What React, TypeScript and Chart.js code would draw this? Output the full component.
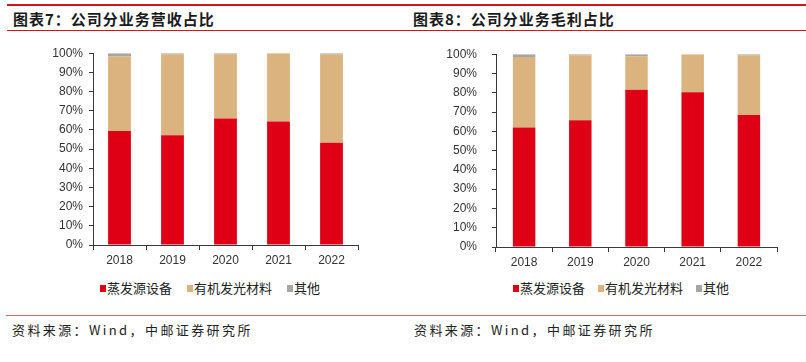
import React, { useEffect, useRef } from "react";
import { Chart, registerables } from "chart.js";

Chart.register(...registerables);

const categories = ["2018", "2019", "2020", "2021", "2022"];
const seriesNames = ["蒸发源设备", "有机发光材料", "其他"];

const revEvap = [59.5, 57.2, 66.0, 64.4, 53.3];
const revOled = [38.8, 42.3, 33.5, 35.6, 46.2];
const revOther = [1.7, 0.5, 0.5, 0.0, 0.5];

const gpEvap = [62.0, 65.8, 81.5, 80.3, 68.5];
const gpOled = [36.5, 33.6, 17.4, 19.7, 30.9];
const gpOther = [1.5, 0.6, 1.1, 0.0, 0.6];

const yTicks = [0, 10, 20, 30, 40, 50, 60, 70, 80, 90, 100];

const COLORS = ["#E00016", "#DBB37E", "#A6A6A6"];
const AXIS = "#3a3a3a";
const TICK_FONT = { family: "'Liberation Sans', Arial, sans-serif", size: 12 };
const CJK = "'Noto Sans CJK SC', 'Noto Sans', sans-serif";

type Cfg = {
  series: number[][];
  padLeft: number;
  padRight: number;
  padTop: number;
  yWidth: number;
  yPad: number;
  xHeight: number;
  barPct: number;
};

function StackChart({ cfg, width, height }: { cfg: Cfg; width: number; height: number }) {
  const ref = useRef<HTMLCanvasElement | null>(null);
  useEffect(() => {
    if (!ref.current) return;
    const chart = new Chart(ref.current, {
      type: "bar",
      data: {
        labels: categories,
        datasets: cfg.series.map((d, i) => ({
          label: seriesNames[i],
          data: d,
          backgroundColor: COLORS[i],
          borderWidth: 0,
          barPercentage: cfg.barPct,
          categoryPercentage: 1,
        })),
      },
      options: {
        responsive: false,
        animation: false,
        layout: { padding: { left: cfg.padLeft, right: cfg.padRight, top: cfg.padTop, bottom: 0 } },
        plugins: {
          tooltip: { enabled: false },
          legend: { display: false },
        },
        scales: {
          x: {
            stacked: true,
            afterFit: (s: any) => {
              s.height = cfg.xHeight;
            },
            grid: {
              offset: true,
              drawOnChartArea: false,
              drawTicks: true,
              tickLength: 5,
              color: AXIS,
            },
            border: { display: true, color: AXIS },
            ticks: { color: "#333", font: TICK_FONT, padding: 3 },
          },
          y: {
            stacked: true,
            min: 0,
            max: 100,
            afterFit: (s: any) => {
              s.width = cfg.yWidth;
            },
            afterBuildTicks: (s: any) => {
              s.ticks = yTicks.map((v) => ({ value: v }));
            },
            grid: {
              drawOnChartArea: false,
              drawTicks: true,
              tickLength: 4,
              color: AXIS,
            },
            border: { display: true, color: AXIS },
            ticks: {
              color: "#333",
              font: TICK_FONT,
              padding: cfg.yPad,
              callback: (v: any) => v + "%",
            },
          },
        },
      },
    });
    return () => chart.destroy();
  }, []);
  return <canvas ref={ref} width={width} height={height} style={{ width, height, display: "block" }} />;
}

function Legend({ left, gap }: { left: number; gap: number }) {
  return (
    <div
      style={{
        position: "absolute",
        left,
        top: 279,
        height: 18,
        display: "flex",
        alignItems: "center",
        gap,
        fontFamily: CJK,
        fontSize: 13,
        lineHeight: "18px",
        color: "#222",
        whiteSpace: "nowrap",
      }}
    >
      {seriesNames.map((n, i) => (
        <div key={n} style={{ display: "flex", alignItems: "center" }}>
          <span style={{ display: "inline-block", width: 6, height: 7, background: COLORS[i], marginRight: 1 }} />
          <span>{n}</span>
        </div>
      ))}
    </div>
  );
}

const leftCfg: Cfg = {
  series: [revEvap, revOled, revOther],
  padLeft: 40,
  padRight: 42,
  padTop: 13,
  yWidth: 53,
  yPad: 6,
  xHeight: 27,
  barPct: 0.43,
};

const rightCfg: Cfg = {
  series: [gpEvap, gpOled, gpOther],
  padLeft: 43,
  padRight: 23,
  padTop: 0,
  yWidth: 53,
  yPad: 15,
  xHeight: 25,
  barPct: 0.4,
};

export default function App() {
  const titleStyle: React.CSSProperties = {
    position: "absolute",
    top: 10,
    fontFamily: CJK,
    fontWeight: 700,
    fontSize: 15,
    lineHeight: "18px",
    letterSpacing: "1px",
    color: "#1a1a1a",
    whiteSpace: "nowrap",
  };
  const srcStyle: React.CSSProperties = {
    position: "absolute",
    top: 322,
    fontFamily: CJK,
    fontWeight: 400,
    fontSize: 13,
    lineHeight: "16px",
    letterSpacing: "2.4px",
    color: "#222",
    whiteSpace: "nowrap",
  };
  return (
    <div style={{ position: "absolute", left: 0, top: 0, width: 806, height: 362, background: "#fff", overflow: "hidden" }}>
      <div style={{ position: "absolute", left: 7, top: 4, width: 799, height: 2, background: "#D7141D" }} />
      <div style={{ position: "absolute", left: 7, top: 30, width: 799, height: 1, background: "#D7141D" }} />
      <div style={{ ...titleStyle, left: 13 }}>图表7：公司分业务营收占比</div>
      <div style={{ ...titleStyle, left: 413 }}>图表8：公司分业务毛利占比</div>
      <div style={{ position: "absolute", left: 0, top: 40 }}>
        <StackChart cfg={leftCfg} width={400} height={232} />
      </div>
      <div style={{ position: "absolute", left: 400, top: 32 }}>
        <StackChart cfg={rightCfg} width={400} height={240} />
      </div>
      <Legend left={100} gap={15} />
      <Legend left={513} gap={13} />
      <div style={{ position: "absolute", left: 6, top: 315, width: 800, height: 1, background: "#E06468" }} />
      <div style={{ ...srcStyle, left: 12 }}>资料来源：Wind，中邮证券研究所</div>
      <div style={{ ...srcStyle, left: 414 }}>资料来源：Wind，中邮证券研究所</div>
    </div>
  );
}
